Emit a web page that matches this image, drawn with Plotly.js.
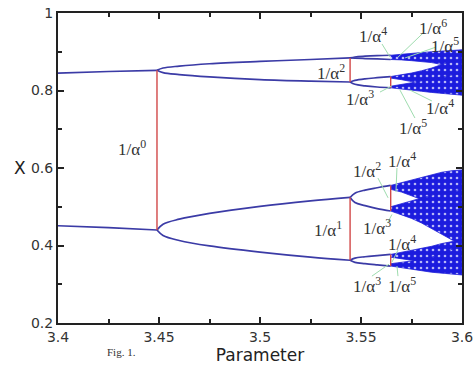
<!DOCTYPE html>
<html><head><meta charset="utf-8">
<script src="https://cdn.plot.ly/plotly-3.0.1.min.js"></script>
<style>html,body{margin:0;padding:0;background:#fff}#chart{width:476px;height:365px}</style>
</head><body><div id="chart"></div>
<script>
// ---- period-2 branches ----
const p2X = [3.4, 3.425, 3.449];
const p2Upper = [0.845, 0.849, 0.852];
const p2Lower = [0.451, 0.446, 0.440];

// ---- period-4 branches ----
const p4X = [3.449, 3.452, 3.46, 3.475, 3.5, 3.525, 3.5446];
const p4B1 = [0.852, 0.858, 0.863, 0.869, 0.875, 0.880, 0.884];
const p4B2 = [0.852, 0.846, 0.841, 0.835, 0.828, 0.824, 0.822];
const p4B3 = [0.440, 0.455, 0.468, 0.483, 0.501, 0.515, 0.524];
const p4B4 = [0.440, 0.426, 0.413, 0.399, 0.383, 0.370, 0.362];

// ---- period-8 branches ----
const p8X = [3.5446, 3.547, 3.552, 3.558, 3.5647];
const p8B1 = [0.884, 0.8865, 0.8885, 0.890, 0.891];
const p8B2 = [0.884, 0.8835, 0.8825, 0.8815, 0.880];
const p8B3 = [0.822, 0.826, 0.830, 0.833, 0.836];
const p8B4 = [0.822, 0.816, 0.812, 0.809, 0.807];
const p8B5 = [0.524, 0.535, 0.543, 0.549, 0.555];
const p8B6 = [0.524, 0.511, 0.503, 0.495, 0.489];
const p8B7 = [0.362, 0.3675, 0.371, 0.374, 0.377];
const p8B8 = [0.362, 0.3565, 0.353, 0.350, 0.347];

// ---- chaotic bands (edges) ----
const bandX = [3.5647, 3.57, 3.575, 3.58, 3.585, 3.59, 3.595, 3.6];
const dTop = [0.891, 0.894, 0.896, 0.898, 0.900, 0.902, 0.904, 0.905];
const dBot = [0.880, 0.879, 0.877, 0.875, 0.872, 0.867, 0.858, 0.850];
const c1Top = [0.836, 0.840, 0.845, 0.851, 0.858, 0.867, 0.875, 0.880];
const c1Bot = [0.832, 0.828, 0.823, 0.818, 0.812, 0.806, 0.800, 0.795];
const c2Top = [0.811, 0.815, 0.820, 0.825, 0.830, 0.835, 0.840, 0.845];
const c2Bot = [0.807, 0.804, 0.801, 0.798, 0.795, 0.792, 0.790, 0.788];
const b1Top = [0.555, 0.562, 0.569, 0.576, 0.583, 0.589, 0.593, 0.595];
const b1Bot = [0.545, 0.538, 0.530, 0.520, 0.510, 0.500, 0.490, 0.480];
const b2Top = [0.500, 0.508, 0.516, 0.524, 0.530, 0.536, 0.540, 0.545];
const b2Bot = [0.489, 0.480, 0.470, 0.458, 0.445, 0.430, 0.415, 0.400];
const a1Top = [0.377, 0.382, 0.387, 0.392, 0.398, 0.405, 0.410, 0.415];
const a1Bot = [0.370, 0.366, 0.362, 0.358, 0.354, 0.350, 0.345, 0.340];
const a2Top = [0.353, 0.356, 0.360, 0.364, 0.370, 0.380, 0.390, 0.400];
const a2Bot = [0.347, 0.343, 0.339, 0.335, 0.331, 0.328, 0.326, 0.324];

// ---- red markers at bifurcation points ----
const redX = [3.449, 3.5446, 3.5446, 3.5647, 3.5647, 3.5647];
const redTop = [0.852, 0.524, 0.884, 0.836, 0.555, 0.377];
const redBot = [0.440, 0.362, 0.822, 0.807, 0.489, 0.347];

// ---- labels ----
const labelText = ['1/α<sup>0</sup>','1/α<sup>1</sup>','1/α<sup>2</sup>','1/α<sup>4</sup>','1/α<sup>3</sup>','1/α<sup>4</sup>','1/α<sup>3</sup>','1/α<sup>5</sup>',
  '1/α<sup>4</sup>','1/α<sup>6</sup>','1/α<sup>5</sup>','1/α<sup>2</sup>','1/α<sup>3</sup>','1/α<sup>4</sup>','1/α<sup>5</sup>'];
const labelX = [3.4366, 3.5337, 3.553, 3.5703, 3.558, 3.5703, 3.553, 3.5703, 3.556, 3.5856, 3.5916, 3.5351, 3.5495, 3.589, 3.5757];
const labelY = [0.652, 0.4426, 0.595, 0.621, 0.448, 0.406, 0.298, 0.298, 0.943, 0.964, 0.917, 0.848, 0.781, 0.757, 0.706];

// ---- green leader lines ----
const leadX0 = [3.5604, 3.5807, 3.5871, 3.5594, 3.5851, 3.5767, 3.5584, 3.5678, 3.5633, 3.5683, 3.5554, 3.5683];
const leadY0 = [0.920, 0.948, 0.912, 0.796, 0.773, 0.729, 0.574, 0.600, 0.460, 0.388, 0.321, 0.321];
const leadX1 = [3.5644, 3.5683, 3.5718, 3.5653, 3.5743, 3.5693, 3.5634, 3.5673, 3.5653, 3.5653, 3.5639, 3.5678];
const leadY1 = [0.886, 0.886, 0.884, 0.812, 0.801, 0.801, 0.523, 0.538, 0.480, 0.357, 0.352, 0.347];

const branchColor = '#3b3ba6';
const traces = [];
function branch(x, y) {
  traces.push({x: x, y: y, type: 'scatter', mode: 'lines', line: {color: branchColor, width: 1.7, shape: 'spline'}, hoverinfo: 'skip', showlegend: false});
}
branch(p2X, p2Upper); branch(p2X, p2Lower);
[p4B1, p4B2, p4B3, p4B4].forEach(b => branch(p4X, b));
[p8B1, p8B2, p8B3, p8B4, p8B5, p8B6, p8B7, p8B8].forEach(b => branch(p8X, b));

function band(top, bot) {
  const xs = bandX.concat(bandX.slice().reverse());
  const ys = top.concat(bot.slice().reverse());
  traces.push({x: xs, y: ys, type: 'scatter', mode: 'lines', fill: 'toself',
    fillcolor: 'rgb(28,28,222)', line: {color: 'rgb(30,30,215)', width: 0.8},
    fillpattern: {shape: '.', bgcolor: 'rgb(28,28,222)', fgcolor: 'rgba(235,235,255,0.75)', size: 6, solidity: 0.15},
    hoverinfo: 'skip', showlegend: false});
}
band(dTop, dBot); band(c1Top, c1Bot); band(c2Top, c2Bot);
band(b1Top, b1Bot); band(b2Top, b2Bot); band(a1Top, a1Bot); band(a2Top, a2Bot);

const rx = [], ry = [];
redX.forEach((x, i) => { rx.push(x, x, null); ry.push(redTop[i], redBot[i], null); });
traces.push({x: rx, y: ry, type: 'scatter', mode: 'lines', line: {color: '#d24848', width: 1.4}, hoverinfo: 'skip', showlegend: false});

const gx = [], gy = [];
leadX0.forEach((x, i) => { gx.push(x, leadX1[i], null); gy.push(leadY0[i], leadY1[i], null); });
traces.push({x: gx, y: gy, type: 'scatter', mode: 'lines', line: {color: '#9edcae', width: 1}, hoverinfo: 'skip', showlegend: false});

const annotations = labelText.map((t, i) => ({x: labelX[i], y: labelY[i], xref: 'x', yref: 'y', text: t, showarrow: false,
  xanchor: 'center', yanchor: 'middle',
  font: {family: 'Liberation Serif, serif', size: 17, color: '#333'}}));
annotations.push({x: -(58 - 28) / 404, y: 0.6, xref: 'paper', yref: 'y', text: 'X', showarrow: false,
  xanchor: 'right', yanchor: 'middle',
  font: {family: 'DejaVu Sans, sans-serif', size: 17, color: '#222'}});
annotations.push({x: (121 - 58) / 404, y: -(352 - 323) / 310, xref: 'paper', yref: 'paper', text: 'Fig. 1.',
  showarrow: false, xanchor: 'center', yanchor: 'middle',
  font: {family: 'Liberation Serif, serif', size: 11, color: '#333'}});

const axisCommon = {showline: true, linecolor: '#222', linewidth: 2, mirror: 'allticks', ticks: 'inside', ticklen: 6, tickwidth: 2,
  tickcolor: '#222', showgrid: false, zeroline: false, tickfont: {family: 'DejaVu Sans, sans-serif', size: 14, color: '#333'}};

const layout = {
  width: 476, height: 365,
  margin: {l: 58, r: 14, t: 13, b: 42},
  paper_bgcolor: '#fff', plot_bgcolor: '#fff',
  xaxis: Object.assign({}, axisCommon, {range: [3.4, 3.6], dtick: 0.05, tick0: 3.4,
    minor: {dtick: 0.025, ticks: 'inside', ticklen: 4, tickwidth: 2, tickcolor: '#222'},
    title: {text: 'Parameter', font: {family: 'DejaVu Sans, sans-serif', size: 17, color: '#222'}, standoff: 4}}),
  yaxis: Object.assign({}, axisCommon, {range: [0.2, 1], dtick: 0.2, tick0: 0.2,
    minor: {dtick: 0.1, ticks: 'inside', ticklen: 4, tickwidth: 2, tickcolor: '#222'}}),
  annotations: annotations,
  showlegend: false
};

Plotly.newPlot('chart', traces, layout, {displayModeBar: false, staticPlot: true});
</script></body></html>
